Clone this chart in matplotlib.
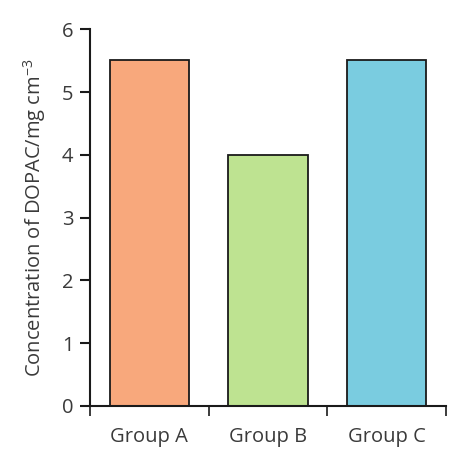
import matplotlib
matplotlib.use('Agg')
import matplotlib.pyplot as plt

grupos = ['Group A', 'Group B', 'Group C']
valores = [5.52, 4.0, 5.52]
cores = ['#F8A87C', '#BEE391', '#7ACCE0']

plt.rcParams['font.family'] = ['Open Sans', 'DejaVu Sans']
texto = '#3a3a3a'

fig = plt.figure(figsize=(4.62, 4.51), dpi=100)
ax = fig.add_axes([0.1948, 0.0998, 0.7706, 0.8348])

x = range(1, len(grupos) + 1)
ax.bar(x, valores, width=0.67, color=cores, edgecolor='#1a1a1a', linewidth=1.3)

ax.set_xlim(0.5, 3.5)
ax.set_ylim(0, 6)
ax.set_yticks(range(0, 7))
ax.set_xticks([0.5, 1.5, 2.5, 3.5])
ax.set_xticklabels([])
ax.set_xticks(list(x), minor=True)
ax.set_xticklabels(grupos, minor=True, fontsize=14.5, color=texto)
ax.tick_params(axis='x', which='minor', length=0, pad=15)
ax.tick_params(axis='x', which='major', direction='out', length=7, width=1.2, color='#1a1a1a')
ax.tick_params(axis='y', direction='out', length=7, width=1.5, color='#1a1a1a',
               labelsize=14.5, labelcolor=texto, pad=5)

for lado in ['top', 'right']:
    ax.spines[lado].set_visible(False)
for lado in ['left', 'bottom']:
    ax.spines[lado].set_linewidth(1.5)
    ax.spines[lado].set_color('#1a1a1a')

ax.set_ylabel('Concentration of DOPAC/mg cm$^{\\mathregular{-3}}$', fontsize=14.5,
              color=texto, labelpad=10)

fig.savefig('out.png', dpi=100)
